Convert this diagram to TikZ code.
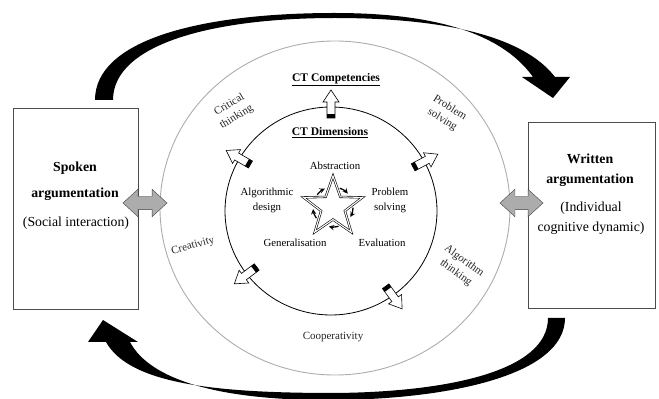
\documentclass[tikz,border=0pt]{standalone}
\usepackage{fontspec}
\setmainfont{Liberation Serif}
\usetikzlibrary{shapes.geometric, shapes.arrows, arrows, positioning, calc}
\tikzset{>=stealth,
argbox/.style={draw=black!70, line width=0.9pt, inner sep=0pt},
argtitle/.style={font=\fontsize{13.8}{16}\selectfont\bfseries, inner sep=0pt},
argsub/.style={font=\fontsize{13.8}{16}\selectfont, inner sep=0pt},
ring/.style={ellipse, inner sep=0pt},
heading/.style={font=\fontsize{11.6}{14}\selectfont\bfseries, inner sep=0pt},
dimtext/.style={font=\fontsize{10.8}{15}\selectfont, align=center, inner sep=0pt},
comptext/.style={font=\fontsize{11}{14}\selectfont, align=center, inner sep=0pt, text=black!85},
swaparrow/.style={double arrow, draw=gray!50!black, fill=gray!65, inner xsep=0pt, inner ysep=6.5pt,
  double arrow head extend=7pt, double arrow tip angle=85},
bigarrow/.style={fill=black},
}
\newcommand{\outarrow}[1]{%
  \begin{scope}[shift={(dim.center)}, rotate=#1]
    \draw[fill=white, line width=0.6pt] (93,-4) -- (109,-4) -- (109,-8) -- (121,0)
      -- (109,8) -- (109,4) -- (93,4) -- cycle;
    \fill (93,-4) rectangle (97,4);
  \end{scope}}

\begin{document}
\begin{tikzpicture}[x=1pt, y=1pt]
    \useasboundingbox (0,0) rectangle (659,399);
    % circles
    \node[ring, draw=gray!65, line width=0.9pt, minimum width=350, minimum height=334] (comp) at (335,191) {};
    \node[ring, draw=black, line width=0.8pt, minimum width=212, minimum height=208] (dim) at (331,188) {};
    % boxes
    \node[argbox, minimum width=125, minimum height=201] (spoken) at (75.5,190.5) {};
    \node[argbox, minimum width=127, minimum height=186] (written) at (591.5,184) {};
    \node[argtitle] (sp1) at (75,231) {Spoken};
    \node[argtitle] (sp2) at (75,205) {argumentation};
    \node[argsub] (sp3) at (76,176) {(Social interaction)};
    \node[argtitle] (wr1) at (590,240) {Written};
    \node[argtitle] (wr2) at (590,219) {argumentation};
    \node[argsub] (wr3) at (591,191) {(Individual};
    \node[argsub] (wr4) at (591,171) {cognitive dynamic)};
    % swap arrows
    \node[swaparrow, minimum height=44] (lswap) at (145,196) {};
    \node[swaparrow, minimum height=43] (rswap) at (521.5,196) {};
    % big arrows
    \fill[bigarrow] (95,299) .. controls (95,359) and (200,386) .. (335,386)
      .. controls (460,386) and (510,354) .. (533,322)
      -- (522,322) -- (553,301) -- (570,322) -- (555,322)
      .. controls (525,361) and (450,381) .. (335,381)
      .. controls (210,381) and (113,354) .. (113,299) -- cycle;
    \fill[bigarrow] (565,81) .. controls (565,24) and (450,0) .. (335,-1)
      .. controls (220,-2) and (150,19) .. (130,57)
      -- (138,57) -- (103,79) -- (88,57) -- (106,57)
      .. controls (130,14) and (220,6) .. (335,6)
      .. controls (445,7) and (548,27) .. (548,81) -- cycle;
    % labels
    \node[heading] (comphead) at (336,319) {\underline{CT Competencies}};
    \node[heading] (dimhead) at (330,266) {\underline{CT Dimensions}};
    \node[dimtext] (abs) at (335,233) {Abstraction};
    \node[dimtext] (alg) at (267,199) {Algorithmic\\design};
    \node[dimtext] (prob) at (390,199) {Problem\\solving};
    \node[dimtext] (gen) at (295,156) {Generalisation};
    \node[dimtext] (eval) at (382,156) {Evaluation};
    \node[comptext] (crit) at (233,288) [rotate=31] {Critical\\thinking};
    \node[comptext] (psolv) at (446,285) [rotate=-32] {Problem\\solving};
    \node[comptext] (creat) at (193,153) [rotate=15] {Creativity};
    \node[comptext] (athink) at (460,132) [rotate=-36] {Algorithm\\thinking};
    \node[comptext] (coop) at (333,62) {Cooperativity};
    % star
    \coordinate (star) at (333,192);
    \draw[double=white, double distance=1.1pt, line width=0.6pt, fill=white, line join=miter]
      ($(star)+(90:31)$) \foreach \a/\r in {126/12.5,162/31,198/12.5,234/31,270/12.5,306/31,342/12.5,18/31,54/12.5}
      { -- ($(star)+(\a:\r)$) } -- cycle;
    \foreach \a in {126,54,342,270,198}
      \draw[->, line width=1.3pt] ([shift={(\a+16:20)}]star) arc[start angle=\a+16, end angle=\a-12, radius=20];
    % dimension arrows
    \foreach \a in {90,150,28,217,306}
      \outarrow{\a};
\end{tikzpicture}
\end{document}
